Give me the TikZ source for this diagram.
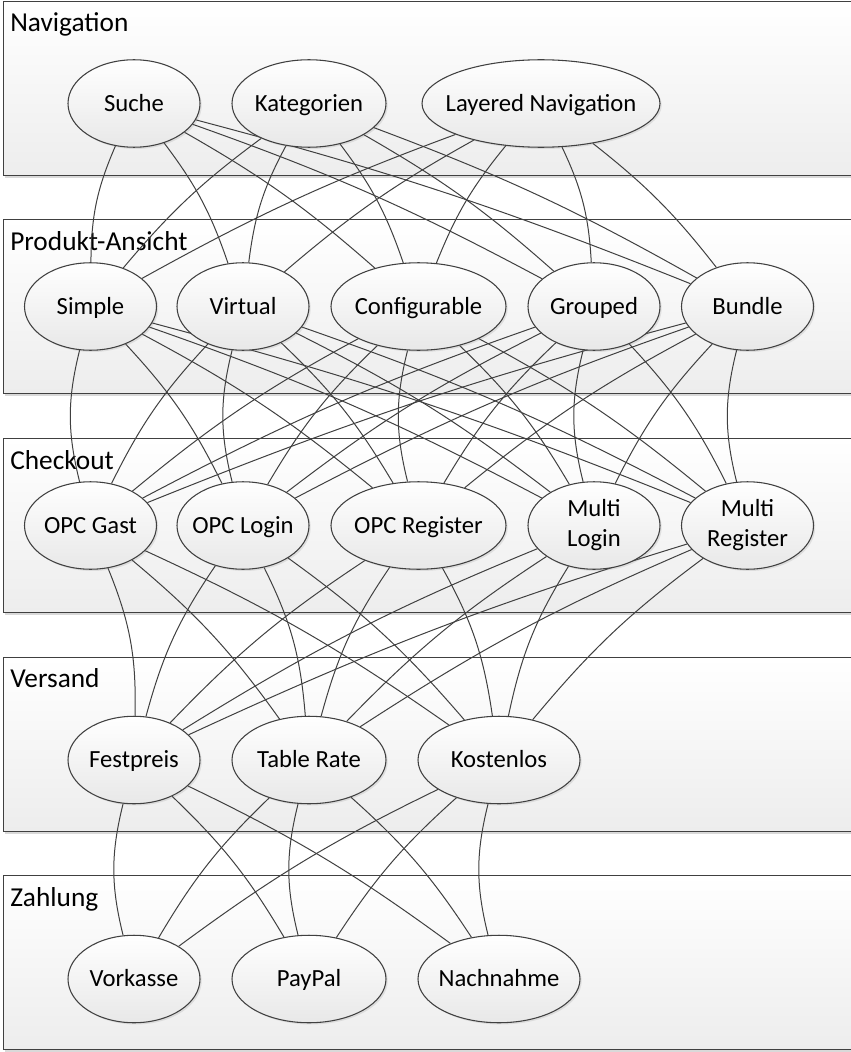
\documentclass[tikz,border=0pt]{standalone}
\usepackage{fontspec}
\setmainfont{Carlito}
\usetikzlibrary{shapes.geometric,shadows,calc}
\pgfdeclarelayer{panels}
\pgfdeclarelayer{edges}
\pgfsetlayers{panels,edges,main}
\definecolor{linec}{RGB}{64,64,64}
\definecolor{nodebot}{RGB}{232,232,232}
\definecolor{panelbot}{RGB}{237,237,237}
\newcommand\mynt[1]{\makebox[0pt]{\rule[-0.26em]{0pt}{1.16em}#1}}
\newcommand\myntt[2]{\makebox[0pt]{\raisebox{-1.5pt}{\begin{tabular}{@{}c@{}}#1\\#2\end{tabular}}}}
\tikzset{
  nd/.style={ellipse, draw=linec, line width=0.8pt, top color=white, bottom color=nodebot,
    minimum height=65.6pt, inner sep=0pt, font=\fontsize{18.5}{22.5}\selectfont,
    drop shadow={shadow xshift=1.3pt, shadow yshift=-1.3pt, opacity=0.18}},
  wa/.style={minimum width=99pt},
  wb/.style={minimum width=115.5pt},
  wc/.style={minimum width=131.25pt},
  wd/.style={minimum width=178.5pt},
  we/.style={minimum width=121.5pt},
  panel/.style={rectangle, draw=linec, line width=1.1pt, top color=white, bottom color=panelbot,
    minimum width=650.25pt, minimum height=130.5pt, anchor=north west, inner sep=0pt,
    drop shadow={shadow xshift=1.2pt, shadow yshift=-2pt, opacity=0.3}},
  plabel/.style={anchor=base west, inner sep=0pt, font=\fontsize{20.5}{24}\selectfont},
  cnx/.style={draw=linec, line width=0.75pt},
}
\begin{document}
\begin{tikzpicture}[x=0.75pt,y=0.75pt]
\useasboundingbox (0,0) rectangle (850,-1052);
% panels
\begin{pgfonlayer}{panels}
\node[panel] (pnav) at (3,-1) {};
\node[panel] (pprod) at (3,-219) {};
\node[panel] (pcheck) at (3,-438) {};
\node[panel] (pvers) at (3,-656.5) {};
\node[panel] (pzahl) at (3,-875) {};
\node[plabel] (lnav) at (10,-32) {Navigation};
\node[plabel] (lprod) at (10,-250) {Produkt-Ansicht};
\node[plabel] (lcheck) at (10,-469) {Checkout};
\node[plabel] (lvers) at (10,-687.5) {Versand};
\node[plabel] (lzahl) at (10,-906.5) {Zahlung};
\end{pgfonlayer}
% nodes
\node[nd,wa] (su) at (134,-103.5) {\mynt{Suche}};
\node[nd,wb] (ka) at (309,-103.5) {\mynt{Kategorien}};
\node[nd,wd] (ln) at (541,-103.5) {\mynt{Layered Navigation}};
\node[nd,wa] (si) at (90.5,-306.5) {\mynt{Simple}};
\node[nd,wa] (vi) at (243,-306.5) {\mynt{Virtual}};
\node[nd,wc] (co) at (418.5,-306.5) {\mynt{Configurable}};
\node[nd,wa] (gr) at (594,-306.5) {\mynt{Grouped}};
\node[nd,wa] (bu) at (747.5,-306.5) {\mynt{Bundle}};
\node[nd,wa] (og) at (90.5,-525.5) {\mynt{OPC Gast}};
\node[nd,wa] (ol) at (243,-525.5) {\mynt{OPC Login}};
\node[nd,wc] (orr) at (418.5,-525.5) {\mynt{OPC Register}};
\node[nd,wa] (ml) at (594,-525.5) {\myntt{Multi}{Login}};
\node[nd,wa] (mr) at (747.5,-525.5) {\myntt{Multi}{Register}};
\node[nd,wa] (fp) at (134,-760) {\mynt{Festpreis}};
\node[nd,wb] (tr) at (309,-760) {\mynt{Table Rate}};
\node[nd,we] (kl) at (499,-760) {\mynt{Kostenlos}};
\node[nd,wa] (vk) at (134,-979) {\mynt{Vorkasse}};
\node[nd,wb] (pp) at (309,-979) {\mynt{PayPal}};
\node[nd,we] (nn) at (499,-979) {\mynt{Nachnahme}};
% connectors
\begin{pgfonlayer}{edges}
\foreach \ga/\gb in {{su,ka,ln}/{si,vi,co,gr,bu},{si,vi,co,gr,bu}/{og,ol,orr,ml,mr},{og,ol,orr,ml,mr}/{fp,tr,kl},{fp,tr,kl}/{vk,pp,nn}}{
  \foreach \a in \ga {
    \foreach \b in \gb {
      \draw[cnx] let \p1=(\a.center), \p2=(\b.center),
        \n1={scalar(ifthenelse(\x2>\x1,1,-1)*14*abs(\y1-\y2)/(abs(\y1-\y2)+abs(\x2-\x1)))}
        in (\a) to[bend left=\n1] (\b);
    }
  }
}
\end{pgfonlayer}
\end{tikzpicture}
\end{document}
